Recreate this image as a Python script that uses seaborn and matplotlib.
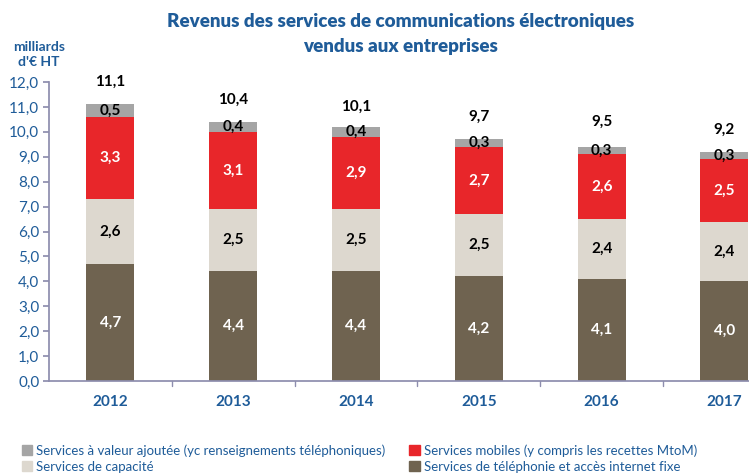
""" Revenus des services de communications électroniques vendus aux entreprises """

import numpy as np
import pandas as pd
import matplotlib
matplotlib.use("Agg")
import matplotlib.pyplot as plt
import seaborn as sns
from matplotlib.patches import Patch

annees = ["2012", "2013", "2014", "2015", "2016", "2017"]
fixe = [4.7, 4.4, 4.4, 4.2, 4.1, 4.0]
capacite = [2.6, 2.5, 2.5, 2.5, 2.4, 2.4]
mobiles = [3.3, 3.1, 2.9, 2.7, 2.6, 2.5]
valeur_ajoutee = [0.5, 0.4, 0.4, 0.3, 0.3, 0.3]
totaux = [11.1, 10.4, 10.1, 9.7, 9.5, 9.2]

series = [
    ("Services de téléphonie et accès internet fixe", fixe, "#6F6350", "white"),
    ("Services de capacité", capacite, "#DDD8CF", "black"),
    ("Services mobiles (y compris les recettes MtoM)", mobiles, "#E8262A", "white"),
    ("Services à valeur ajoutée (yc renseignements téléphoniques)", valeur_ajoutee, "#A5A5A5", "black"),
]

bleu = "#1F5C99"
sns.set_theme(style="white")
plt.rcParams["font.family"] = ["Lato", "DejaVu Sans"]

fig = plt.figure(figsize=(7.49, 4.74), dpi=100)
ax = fig.add_axes([0.0654, 0.196, 0.9346, 0.631])

# barres empilées : on trace les cumuls du plus haut au plus bas
cumuls = np.cumsum([s[1] for s in series], axis=0)
for i in range(len(series) - 1, -1, -1):
    df = pd.DataFrame({"annee": annees, "valeur": cumuls[i]})
    sns.barplot(data=df, x="annee", y="valeur", color=series[i][2],
                width=0.39, saturation=1, ax=ax, edgecolor="none")

# étiquettes des segments
for i, (nom, vals, couleur, txt) in enumerate(series):
    for j, v in enumerate(vals):
        bas = cumuls[i][j] - v
        ax.text(j, bas + v / 2, f"{v:.1f}".replace(".", ","), ha="center", va="center",
                color=txt, fontsize=11, fontweight="bold")

for j, t in enumerate(totaux):
    ax.text(j, t + 0.9, f"{t:.1f}".replace(".", ","), ha="center", va="center",
            color="black", fontsize=11, fontweight="bold")

ax.set_ylim(0, 12)
ax.set_xlim(-0.5, 5.2)
ax.set_yticks(np.arange(0, 12.1, 1))
ax.set_yticklabels([f"{v:.1f}".replace(".", ",") for v in np.arange(0, 12.1, 1)],
                   color=bleu, fontsize=11)
ax.set_xticks(range(len(annees)))
ax.set_xticklabels(annees, color=bleu, fontsize=11, fontweight="bold")
ax.tick_params(axis="x", length=0, pad=10)
ax.tick_params(axis="y", length=4, color="#8E8EAE", left=True, pad=3)
for pos in np.arange(0.5, 5.5, 1):
    ax.plot([pos, pos], [0, -0.2], color="#8E8EAE", lw=1, clip_on=False)
ax.set_xlabel("")
ax.set_ylabel("")
sns.despine(ax=ax, top=True, right=True)
ax.spines["left"].set_color("#8E8EAE")
ax.spines["bottom"].set_color("#8E8EAE")

fig.text(0.535, 0.955, "Revenus des services de communications électroniques",
         ha="center", va="center", color=bleu, fontsize=13.5, fontweight="heavy")
fig.text(0.535, 0.902, "vendus aux entreprises",
         ha="center", va="center", color=bleu, fontsize=13.5, fontweight="heavy")
fig.text(0.052, 0.884, "milliards\nd'€ HT", ha="center", va="center", color=bleu,
         fontsize=10, fontweight="bold", linespacing=1.3)

ordre = [3, 1, 2, 0]
handles = [Patch(color=series[k][2], label=series[k][0]) for k in ordre]
leg = fig.legend(handles=handles, ncol=2, loc="lower left", bbox_to_anchor=(0.013, -0.022),
                 frameon=False, fontsize=9.5, handlelength=0.8, handleheight=0.8,
                 handletextpad=0.3, columnspacing=1.8, labelspacing=0.3)
for t in leg.get_texts():
    t.set_color(bleu)

fig.savefig("out.png", dpi=100)
